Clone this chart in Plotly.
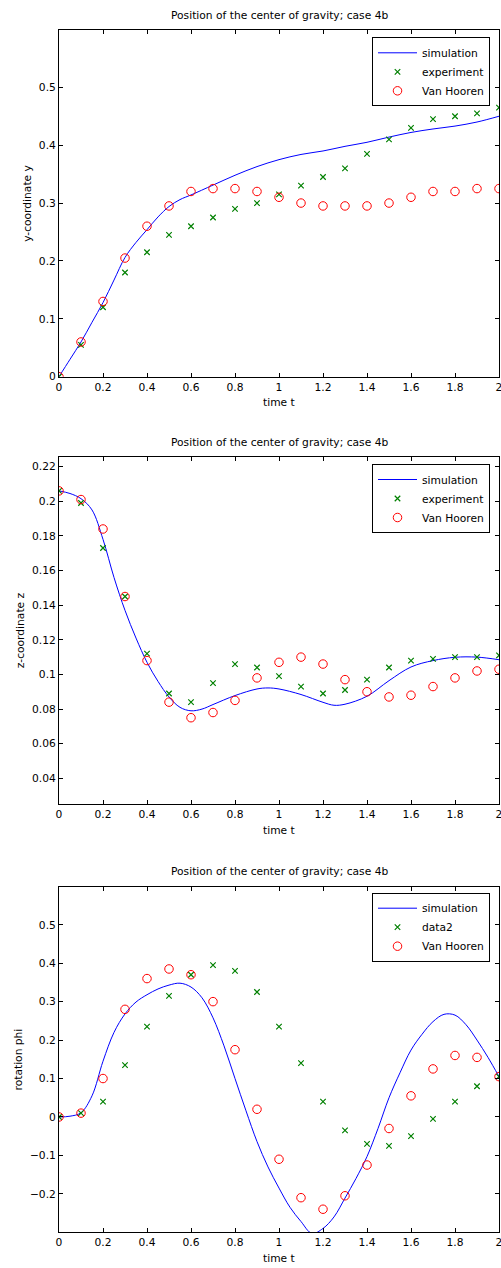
import plotly.graph_objects as go

# ---------------- data ----------------
T_EXP = [0, 0.1, 0.2, 0.3, 0.4, 0.5, 0.6, 0.7, 0.8, 0.9, 1.0,
         1.1, 1.2, 1.3, 1.4, 1.5, 1.6, 1.7, 1.8, 1.9, 2.0]

# plot 1 : y-coordinate
Y_SIM_T = [0, 0.05, 0.1, 0.15, 0.2, 0.25, 0.3, 0.35, 0.4, 0.45, 0.5, 0.55, 0.6,
           0.7, 0.8, 0.9, 1.0, 1.1, 1.2, 1.3, 1.4, 1.5, 1.6, 1.7, 1.8, 1.9, 2.0]
Y_SIM = [0, 0.03, 0.06, 0.094, 0.128, 0.167, 0.206, 0.232, 0.254, 0.276, 0.294, 0.306, 0.314,
         0.331, 0.348, 0.363, 0.375, 0.384, 0.390, 0.398, 0.405, 0.414, 0.422, 0.428, 0.433, 0.440, 0.450]
Y_EXP = [0, 0.055, 0.12, 0.18, 0.215, 0.245, 0.26, 0.275, 0.29, 0.30, 0.315,
         0.33, 0.345, 0.36, 0.385, 0.41, 0.43, 0.445, 0.45, 0.455, 0.465]
Y_VH = [0, 0.06, 0.13, 0.205, 0.26, 0.295, 0.32, 0.325, 0.325, 0.32, 0.31,
        0.30, 0.295, 0.295, 0.295, 0.30, 0.31, 0.32, 0.32, 0.325, 0.325]

# plot 2 : z-coordinate
Z_SIM_T = [0, 0.05, 0.1, 0.15, 0.2, 0.25, 0.3, 0.35, 0.4, 0.45, 0.5, 0.55, 0.6, 0.65,
           0.7, 0.8, 0.9, 0.95, 1.0, 1.1, 1.2, 1.25, 1.3, 1.4, 1.5, 1.6, 1.7, 1.8, 1.9, 2.0]
Z_SIM = [0.206, 0.2045, 0.2015, 0.195, 0.178, 0.156, 0.137, 0.121, 0.107, 0.096, 0.087, 0.081, 0.079, 0.080,
         0.0826, 0.0878, 0.0916, 0.0922, 0.0916, 0.0884, 0.0839, 0.0822, 0.0828, 0.0874, 0.0964, 0.1043,
         0.108, 0.1099, 0.110, 0.1085]
Z_EXP = [0.206, 0.199, 0.173, 0.145, 0.112, 0.089, 0.084, 0.095, 0.106, 0.104, 0.099,
         0.093, 0.089, 0.091, 0.097, 0.104, 0.108, 0.109, 0.110, 0.110, 0.111]
Z_VH = [0.206, 0.201, 0.184, 0.145, 0.108, 0.084, 0.075, 0.078, 0.085, 0.098, 0.107,
        0.110, 0.106, 0.097, 0.090, 0.087, 0.088, 0.093, 0.098, 0.102, 0.103]

# plot 3 : rotation phi
P_SIM_T = [0, 0.05, 0.1, 0.15, 0.2, 0.25, 0.3, 0.35, 0.4, 0.45, 0.5, 0.55, 0.6, 0.65,
           0.7, 0.75, 0.8, 0.85, 0.9, 0.95, 1.0, 1.05, 1.1, 1.15, 1.2, 1.25, 1.3, 1.35,
           1.4, 1.45, 1.5, 1.55, 1.6, 1.65, 1.7, 1.75, 1.8, 1.85, 1.9, 1.95, 2.0]
P_SIM = [0, 0.002, 0.011, 0.055, 0.145, 0.22, 0.268, 0.299, 0.318, 0.333, 0.343, 0.348, 0.338, 0.31,
         0.258, 0.185, 0.10, 0.016, -0.064, -0.13, -0.185, -0.235, -0.272, -0.303, -0.29, -0.26, -0.211, -0.16,
         -0.103, -0.03, 0.05, 0.115, 0.174, 0.215, 0.248, 0.267, 0.265, 0.24, 0.20, 0.155, 0.105]
P_EXP = [0, 0.01, 0.04, 0.135, 0.235, 0.315, 0.37, 0.395, 0.38, 0.325, 0.235,
         0.14, 0.04, -0.035, -0.07, -0.075, -0.05, -0.005, 0.04, 0.08, 0.105]
P_VH = [0, 0.01, 0.10, 0.28, 0.36, 0.385, 0.37, 0.30, 0.175, 0.02, -0.11,
        -0.21, -0.24, -0.205, -0.125, -0.03, 0.055, 0.125, 0.16, 0.155, 0.105]

X_TICKS = [0, 0.2, 0.4, 0.6, 0.8, 1.0, 1.2, 1.4, 1.6, 1.8, 2.0]
X_TICK_LABELS = ["0", "0.2", "0.4", "0.6", "0.8", "1", "1.2", "1.4", "1.6", "1.8", "2"]
Y_TICKS = [0, 0.1, 0.2, 0.3, 0.4, 0.5]
Y_TICK_LABELS = ["0", "0.1", "0.2", "0.3", "0.4", "0.5"]
Z_TICKS = [0.04, 0.06, 0.08, 0.1, 0.12, 0.14, 0.16, 0.18, 0.2, 0.22]
Z_TICK_LABELS = ["0.04", "0.06", "0.08", "0.1", "0.12", "0.14", "0.16", "0.18", "0.2", "0.22"]
P_TICKS = [-0.2, -0.1, 0, 0.1, 0.2, 0.3, 0.4, 0.5]
P_TICK_LABELS = ["\u22120.2", "\u22120.1", "0", "0.1", "0.2", "0.3", "0.4", "0.5"]

TITLE = "Position of the center of gravity; case 4b"
LEGENDS = [["simulation", "experiment", "Van Hooren"],
           ["simulation", "experiment", "Van Hooren"],
           ["simulation", "data2", "Van Hooren"]]
YLABELS = ["y-coordinate y", "z-coordinate z", "rotation phi"]

# ---------------- layout helpers ----------------
W, H = 501, 1268
ML, MR = 59, 2
PW = W - ML - MR
FONT = "DejaVu Sans"
FS = 10.7

def px_x(x):
    return (x - ML) / PW

def px_y(y):
    return 1 - y / H

panels = [
    dict(top=30.0, bottom=376.7, rng=[0, 0.599], ticks=Y_TICKS, labels=Y_TICK_LABELS,
         ylab_x=27.5, leg_top=37.3, sim=(Y_SIM_T, Y_SIM), exp=Y_EXP, vh=Y_VH),
    dict(top=457.3, bottom=804.3, rng=[0.025, 0.2254], ticks=Z_TICKS, labels=Z_TICK_LABELS,
         ylab_x=20.5, leg_top=464.0, sim=(Z_SIM_T, Z_SIM), exp=Z_EXP, vh=Z_VH),
    dict(top=886.7, bottom=1232.3, rng=[-0.3, 0.599], ticks=P_TICKS, labels=P_TICK_LABELS,
         ylab_x=18.0, leg_top=892.7, sim=(P_SIM_T, P_SIM), exp=P_EXP, vh=P_VH),
]

fig = go.Figure()
annotations = []
layout = dict(width=W, height=H, margin=dict(l=ML, r=MR, t=0, b=0, pad=0),
              paper_bgcolor="white", plot_bgcolor="white", showlegend=True,
              font=dict(family=FONT, size=FS, color="black"))

axis_common = dict(showline=True, linecolor="black", linewidth=1, mirror="ticks",
                   ticks="inside", ticklen=4, tickcolor="black", tickwidth=1,
                   showgrid=False, zeroline=False, automargin=False,
                   ticklabeloverflow="allow",
                   tickfont=dict(family=FONT, size=FS, color="black"))

GREEN, RED, BLUE = "rgb(0,128,0)", "rgb(255,0,0)", "rgb(0,0,255)"

for i, p in enumerate(panels):
    n = "" if i == 0 else str(i + 1)
    xa, ya = "x" + n, "y" + n
    leg = "legend" + n
    names = LEGENDS[i]
    fig.add_trace(go.Scatter(x=p["sim"][0], y=p["sim"][1], mode="lines", name=names[0],
                             line=dict(color=BLUE, width=1, shape="spline", smoothing=1.0),
                             xaxis=xa, yaxis=ya, legend=leg))
    fig.add_trace(go.Scatter(x=T_EXP, y=p["exp"], mode="markers", name=names[1],
                             marker=dict(symbol="x-thin-open", size=5.5, color=GREEN,
                                         line=dict(color=GREEN, width=1.2)),
                             xaxis=xa, yaxis=ya, legend=leg))
    fig.add_trace(go.Scatter(x=T_EXP, y=p["vh"], mode="markers", name=names[2],
                             marker=dict(symbol="circle-open", size=8.5, color=RED,
                                         line=dict(color=RED, width=1)),
                             xaxis=xa, yaxis=ya, legend=leg))
    dom = [px_y(p["bottom"]), px_y(p["top"])]
    layout["xaxis" + n] = dict(axis_common, domain=[0, 1], range=[0, 2], anchor=ya,
                               tickvals=X_TICKS, ticktext=X_TICK_LABELS)
    layout["yaxis" + n] = dict(axis_common, domain=dom, range=p["rng"], anchor=xa,
                               tickvals=p["ticks"], ticktext=p["labels"])
    layout[leg] = dict(x=px_x(490), xanchor="right", y=px_y(p["leg_top"]), yanchor="top",
                       bgcolor="white", bordercolor="black", borderwidth=1,
                       font=dict(family=FONT, size=FS, color="black"),
                       tracegroupgap=0, itemwidth=39)
    annotations.append(dict(text=TITLE, x=px_x((ML + W - MR) / 2), y=px_y(p["top"] - 15),
                            xref="paper", yref="paper", showarrow=False,
                            xanchor="center", yanchor="middle",
                            font=dict(family=FONT, size=FS, color="black")))
    annotations.append(dict(text="time t", x=px_x((ML + W - MR) / 2), y=px_y(p["bottom"] + 26),
                            xref="paper", yref="paper", showarrow=False,
                            xanchor="center", yanchor="middle",
                            font=dict(family=FONT, size=FS, color="black")))
    annotations.append(dict(text=YLABELS[i], x=px_x(p["ylab_x"]),
                            y=px_y((p["top"] + p["bottom"]) / 2),
                            xref="paper", yref="paper", showarrow=False, textangle=-90,
                            xanchor="center", yanchor="middle",
                            font=dict(family=FONT, size=FS, color="black")))

layout["annotations"] = annotations
fig.update_layout(**layout)
fig.write_html("out.html",
               config={"displayModeBar": False, "staticPlot": True},
               post_script="document.body.style.margin='0';document.body.style.overflow='hidden';")
